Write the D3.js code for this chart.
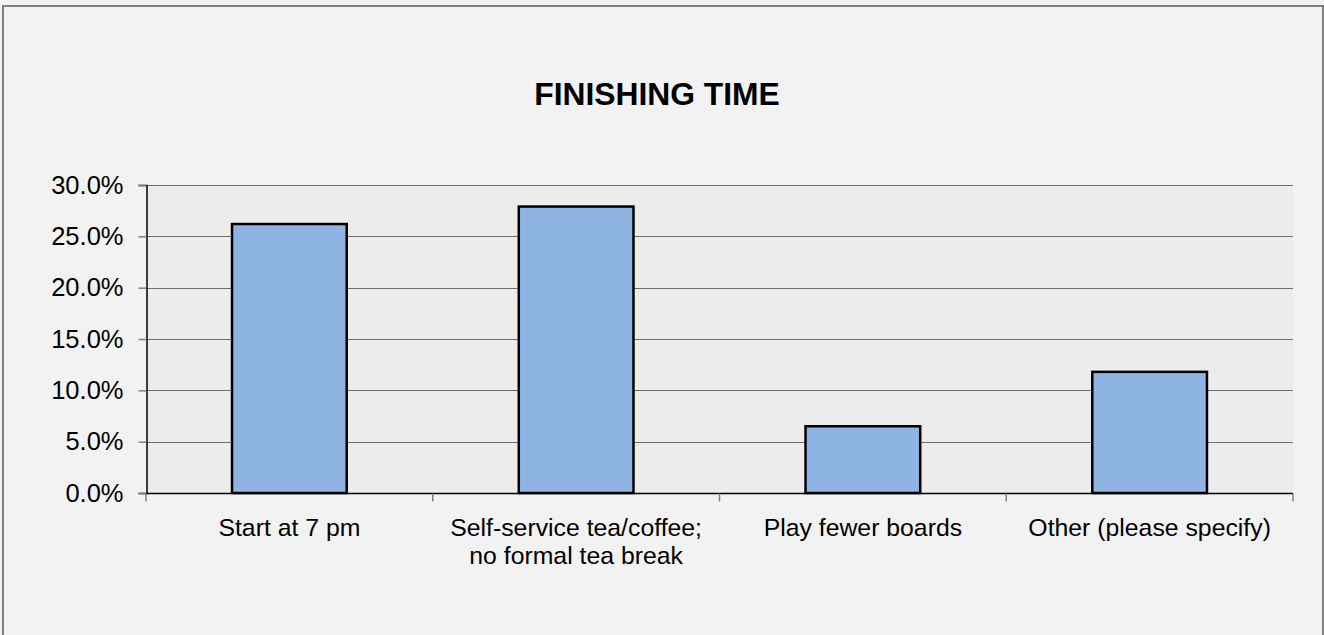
<!DOCTYPE html>
<html>
<head>
<meta charset="utf-8">
<script src="https://cdn.jsdelivr.net/npm/d3@7/dist/d3.min.js"></script>
<style>
html,body{margin:0;padding:0;background:#f2f2f2;}
svg{display:block;}
text{font-family:"Liberation Sans",Arial,sans-serif;fill:#000;}
</style>
</head>
<body>
<svg id="chart" width="1324" height="635"></svg>
<script>
const categories = ["Start at 7 pm", "Self-service tea/coffee;\nno formal tea break", "Play fewer boards", "Other (please specify)"];
const values = [0.262, 0.279, 0.065, 0.118];
const yTicks = [0, 0.05, 0.10, 0.15, 0.20, 0.25, 0.30];
const title = "FINISHING TIME";

const W = 1324, H = 635;
const m = {left:146, right:31, top:185, bottom:142};
const svg = d3.select("#chart");

svg.append("rect").attr("x",0).attr("y",0).attr("width",W).attr("height",H).attr("fill","#f2f2f2");
svg.append("rect").attr("x",3).attr("y",6).attr("width",1320).attr("height",H).attr("fill","none").attr("stroke","#7f7f7f").attr("stroke-width",2);

const x = d3.scaleBand().domain(categories).range([m.left, W - m.right]).paddingInner(0.6).paddingOuter(0.3);
const xb = d3.scaleBand().domain(categories).range([m.left, W - m.right]);
const y = d3.scaleLinear().domain([0, 0.30]).range([H - m.bottom, m.top]);

svg.append("rect").attr("x",m.left).attr("y",m.top).attr("width",W-m.right-m.left).attr("height",H-m.bottom-m.top).attr("fill","#ececec");

// gridlines
svg.append("g").selectAll("line").data(yTicks.filter(d=>d>0)).join("line")
  .attr("x1",m.left).attr("x2",W-m.right)
  .attr("y1",d=>Math.round(y(d))+0.5).attr("y2",d=>Math.round(y(d))+0.5)
  .attr("stroke","#6e6e6e").attr("stroke-width",1.2);

// y axis
const yAxis = d3.axisLeft(y).tickValues(yTicks).tickFormat(d3.format(".1%")).tickSize(8).tickPadding(15);
const gy = svg.append("g").attr("transform",`translate(${m.left+0.5},0)`).call(yAxis);
gy.select(".domain").attr("stroke","#000").attr("stroke-width",1.5);
gy.selectAll(".tick line").attr("stroke","#808080").attr("stroke-width",1.5);
gy.selectAll(".tick text").attr("font-size","25.5px").attr("font-family","Liberation Sans, Arial, sans-serif").attr("fill","#000");

// bars
svg.append("g").selectAll("rect").data(values).join("rect")
  .attr("x",(d,i)=>x(categories[i]))
  .attr("width",x.bandwidth())
  .attr("y",d=>y(d))
  .attr("height",d=>y(0)-y(d))
  .attr("fill","#8eb4e3").attr("stroke","#000").attr("stroke-width",2.5);

// x axis
const gx = svg.append("g").attr("transform",`translate(0,${H-m.bottom+0.5})`);
gx.append("line").attr("x1",m.left).attr("x2",W-m.right).attr("stroke","#000").attr("stroke-width",1.5);
const bounds = categories.map(c=>xb(c)).concat([W-m.right]);
gx.selectAll("line.tk").data(bounds).join("line").attr("class","tk")
  .attr("x1",d=>d).attr("x2",d=>d).attr("y1",0).attr("y2",8).attr("stroke","#808080").attr("stroke-width",1.5);

const labels = gx.selectAll("text").data(categories).join("text")
  .attr("text-anchor","middle").attr("font-size","24.8px")
  .attr("transform",c=>`translate(${xb(c)+xb.bandwidth()/2},42)`);
labels.each(function(c){
  const lines = c.split("\n");
  d3.select(this).selectAll("tspan").data(lines).join("tspan")
    .attr("x",0).attr("dy",(d,i)=>i===0?0:28).text(d=>d);
});

// title
svg.append("text").attr("x",657).attr("y",105).attr("text-anchor","middle")
  .attr("font-size","31.8px").attr("font-weight","bold").text(title);
</script>
</body>
</html>
